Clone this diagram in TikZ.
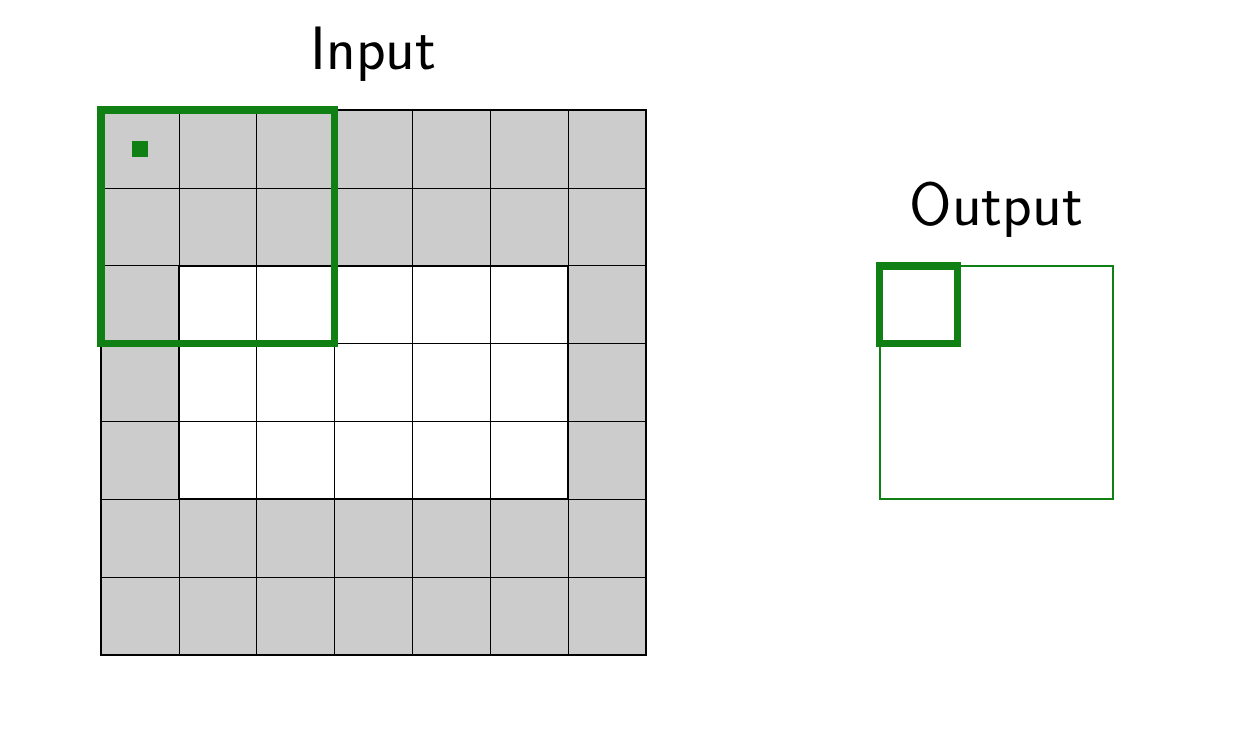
\documentclass[tikz,border=0pt]{standalone}
\usepackage{tikz}
\usetikzlibrary{positioning}

\definecolor{KernelGreen}{RGB}{16, 127, 20}
\definecolor{PadGray}{RGB}{204, 204, 204}

\begin{document}
\begin{tikzpicture}[x=1cm, y=1cm, font=\sffamily\fontsize{22.4}{27}\selectfont]

\useasboundingbox (-1.297,-1.053) rectangle (14.796,8.413);

% input with zero padding
\fill[PadGray] (0,0) rectangle (7,7);
\fill[white] (1,2) rectangle (6,5);
\draw[very thin] (0,0) grid (7,7);
\draw[thick] (1,2) rectangle (6,5);
\draw[thick] (0,0) rectangle (7,7);

\node (input) at (3.5,7.72) {Input};

% kernel window and its centre
\draw[KernelGreen, line width=2.8pt] (0,4) rectangle (3,7);
\fill[KernelGreen] (0.4,6.4) rectangle (0.6,6.6);

% output
\node (output) at (11.5,5.72) {Output};
\draw[KernelGreen, line width=0.7pt] (10,2) rectangle (13,5);
\draw[KernelGreen, line width=2.8pt] (10,4) rectangle (11,5);

\end{tikzpicture}
\end{document}
